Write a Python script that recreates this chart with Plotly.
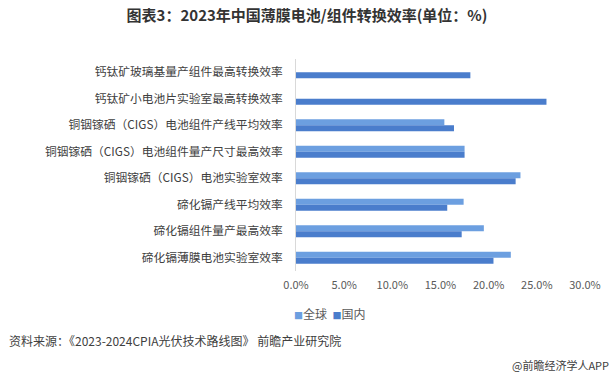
import plotly.graph_objects as go

categories = [
    "钙钛矿玻璃基量产组件最高转换效率",
    "钙钛矿小电池片实验室最高转换效率",
    "铜铟镓硒（CIGS）电池组件产线平均效率",
    "铜铟镓硒（CIGS）电池组件量产尺寸最高效率",
    "铜铟镓硒（CIGS）电池实验室效率",
    "碲化镉产线平均效率",
    "碲化镉组件量产最高效率",
    "碲化镉薄膜电池实验室效率",
]
global_vals = [None, None, 15.4, 17.5, 23.3, 17.4, 19.5, 22.3]
domestic_vals = [18.1, 26.0, 16.4, 17.5, 22.8, 15.7, 17.2, 20.5]
tick_vals = [0, 5, 10, 15, 20, 25, 30]
tick_text = ["0.0%", "5.0%", "10.0%", "15.0%", "20.0%", "25.0%", "30.0%"]
series_names = ["全球", "国内"]
series_colors = ["#6C9FE0", "#4A7DCC"]

font_cjk = "Noto Sans CJK SC"

PL, PT, PW, PH = 296, 59, 289, 212

fig = go.Figure()
fig.add_trace(go.Bar(
    y=categories, x=global_vals, orientation="h", name=series_names[0],
    marker=dict(color=series_colors[0], line=dict(width=0)),
))
fig.add_trace(go.Bar(
    y=categories, x=domestic_vals, orientation="h", name=series_names[1],
    marker=dict(color=series_colors[1], line=dict(width=0)),
))

fig.update_layout(
    width=614, height=381,
    paper_bgcolor="white", plot_bgcolor="white",
    margin=dict(l=PL, r=614 - PL - PW, t=PT, b=381 - PT - PH, autoexpand=False),
    barmode="group", bargap=0.54, bargroupgap=0,
    font=dict(family=font_cjk, size=12, color="#404040"),
    title=dict(
        text="<b>图表3：2023年中国薄膜电池/组件转换效率(单位：%)</b>",
        x=0.5, xanchor="center", y=1 - 16 / 381, yanchor="middle",
        font=dict(family=font_cjk, size=15, color="#333333"),
    ),
    showlegend=False,
)
fig.update_xaxes(
    range=[0, 30], tickvals=tick_vals, ticktext=tick_text,
    showgrid=False, zeroline=False, showline=False, automargin=False,
    tickfont=dict(family=font_cjk, size=11, color="#595959"),
    ticklabelstandoff=6,
)
fig.update_yaxes(
    autorange="reversed", showgrid=False, zeroline=False, automargin=False,
    showline=True, linecolor="#D9D9D9", linewidth=1,
    tickfont=dict(family=font_cjk, size=11.75, color="#404040"),
    ticks="", ticklabelstandoff=10,
)

# legend drawn as text with coloured squares
legend_text = "  ".join(
    f"<span style='color:{c}; font-size:9px'>■</span>{n}"
    for n, c in zip(series_names, series_colors)
)
fig.add_annotation(
    text=legend_text,
    xref="paper", yref="paper", x=(292 - PL) / PW, xanchor="left",
    y=(PT + PH - 313) / PH, yanchor="middle", showarrow=False,
    font=dict(family=font_cjk, size=12, color="#595959"),
)

fig.add_annotation(
    text="资料来源：《2023-2024CPIA光伏技术路线图》 前瞻产业研究院",
    xref="paper", yref="paper", x=(7 - PL) / PW, xanchor="left",
    y=(PT + PH - 340) / PH, yanchor="middle", showarrow=False,
    font=dict(family=font_cjk, size=12, color="#404040"),
)
fig.add_annotation(
    text="@前瞻经济学人APP",
    xref="paper", yref="paper", x=(611 - PL) / PW, xanchor="right",
    y=(PT + PH - 365) / PH, yanchor="middle", showarrow=False,
    font=dict(family=font_cjk, size=11, color="#404040"),
)

fig.write_html(
    "out.html",
    config={"displayModeBar": False},
    post_script="document.body.style.margin='0';document.body.style.padding='0';",
)
